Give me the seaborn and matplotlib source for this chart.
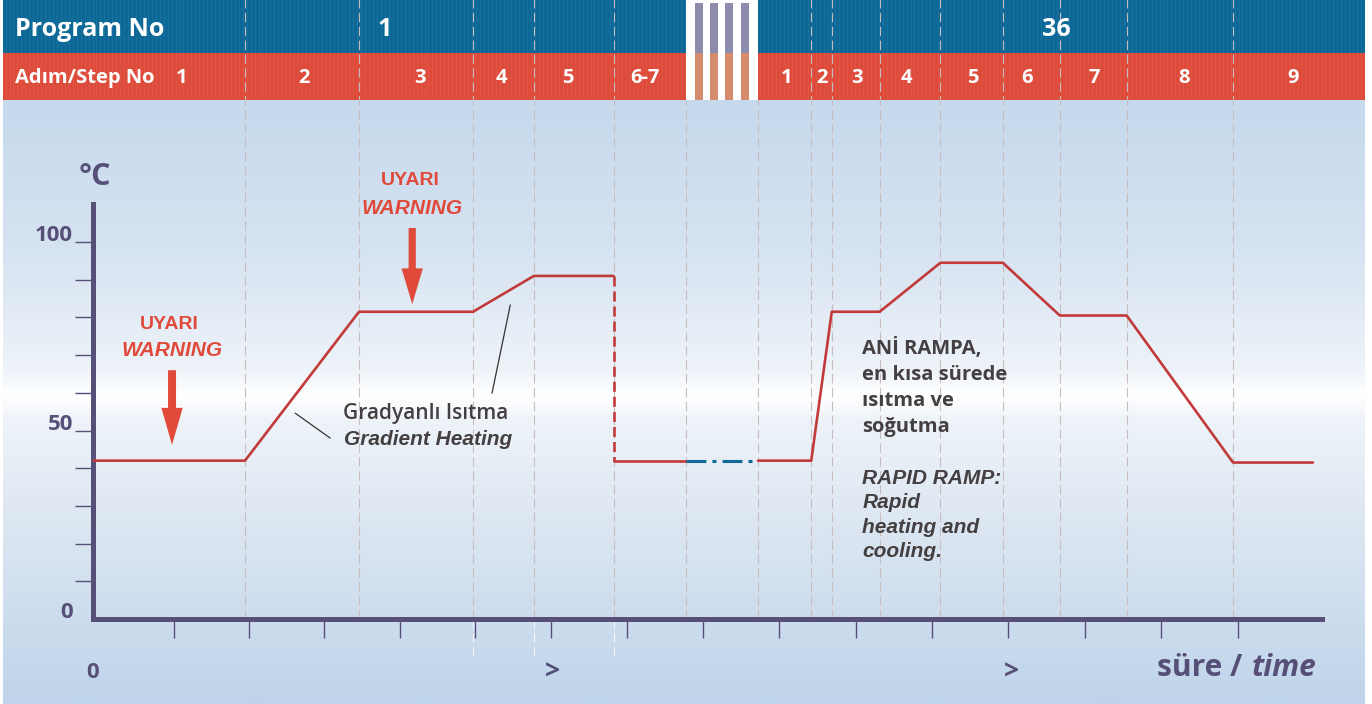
import numpy as np
import matplotlib.pyplot as plt
import matplotlib.transforms as mtransforms
from matplotlib.patches import Rectangle, FancyArrow
from matplotlib.colors import LinearSegmentedColormap
import seaborn as sns

# temperature profile: time in axis-tick units, temperature in °C
prog1_time = [0, 2.0, 3.5, 5.0, 5.8, 6.85]
prog1_temp = [42, 42, 81.5, 81.5, 91, 91]
drop_time = [6.85, 6.85]
drop_temp = [91, 42]
idle_time = [6.85, 7.8]
idle_temp = [42, 42]
break_time = [7.8, 8.75]
break_temp = [42, 42]
prog36_time = [8.75, 9.45, 9.72, 10.35, 11.15, 11.97, 12.72, 13.6, 15.0, 16.05]
prog36_temp = [42, 42, 81.5, 81.5, 94.5, 94.5, 80.5, 80.5, 41.5, 41.5]

# step boundaries (dashed guides)
step_edges = [2.0, 3.5, 5.0, 5.8, 6.85, 7.8, 8.75, 9.45, 9.72, 10.35,
              11.15, 11.97, 12.72, 13.6, 15.0]
long_edges = [5.0, 5.8, 6.85]    # these run on below the time axis
gap_edges = [7.8, 8.75]          # these stop under the header
step_labels = ['1', '2', '3', '4', '5', '6-7',
               '1', '2', '3', '4', '5', '6', '7', '8', '9']
step_label_x = [1.17, 2.78, 4.30, 5.37, 6.25, 7.26,
                9.13, 9.59, 10.05, 10.70, 11.58, 12.29, 13.17, 14.36, 15.79]
program_labels = ['1', '36']
program_label_x = [3.84, 12.68]
break_stripes = [7.92, 8.12, 8.32, 8.53]
x_ticks = [1.066, 2.05, 3.04, 4.04, 5.03, 6.03, 7.03, 8.03, 9.03, 10.04,
           11.04, 12.04, 13.05, 14.05, 15.06]

y_ticks = [0, 10, 20, 30, 40, 50, 60, 70, 80, 90, 100]
y_ticklabels = ['0', '', '', '', '', '50', '', '', '', '', '100']

# colours
AXC = '#564f78'
LINE_RED = '#c23a3a'
WARN_RED = '#e04a3a'
BLUE = '#0c6896'
RED_BAR = '#de4b3a'
TXT = '#443f40'
GUIDE = '#c7bdbe'

sns.set_style('white')
plt.rcParams['font.family'] = ['Open Sans', 'DejaVu Sans']

fig = plt.figure(figsize=(13.72, 7.04), dpi=100)

# background gradient (pixel coordinates)
bg = fig.add_axes([0, 0, 1, 1], zorder=0)
bg.set_xlim(0, 1372)
bg.set_ylim(704, 0)
bg.axis('off')
stops = [(0, '#c4d8ec'), (100 / 704, '#c6d9ed'), (250 / 704, '#d6e3f1'),
         (370 / 704, '#eef3f9'), (396 / 704, '#ffffff'), (420 / 704, '#eef3f9'),
         (520 / 704, '#dde7f2'), (1, '#bfd4ea')]
cmap = LinearSegmentedColormap.from_list('bg', stops)
grad = np.linspace(0, 1, 704).reshape(-1, 1)
bg.imshow(grad, cmap=cmap, aspect='auto', extent=[3, 1365, 704, 0], interpolation='bilinear')

# main axes
ax = fig.add_axes([93 / 1372, 85 / 704, 1229 / 1372, 414.7 / 704], zorder=1)
ax.patch.set_alpha(0)
ax.set_xlim(0, 16.17)
ax.set_ylim(0, 110)

# header bars
bar_left, bar_right = -1.18, 16.74
for x0, x1 in [(bar_left, gap_edges[0]), (gap_edges[1], bar_right)]:
    ax.add_patch(Rectangle((x0, 150.1), x1 - x0, 14.5, color=BLUE, clip_on=False, lw=0, zorder=1))
    ax.add_patch(Rectangle((x0, 137.7), x1 - x0, 12.4, color=RED_BAR, clip_on=False, lw=0, zorder=1))
    # faint vertical texture in the bars
    xs = np.arange(x0 + 0.03, x1, 0.052)
    ax.vlines(xs, 137.7, 164.6, color='white', lw=0.6, alpha=0.07, clip_on=False, zorder=1.5)
ax.add_patch(Rectangle((gap_edges[0], 137.7), gap_edges[1] - gap_edges[0], 27, color='white',
                       clip_on=False, lw=0, zorder=1))
for xs in break_stripes:
    ax.add_patch(Rectangle((xs, 150.1), 0.105, 13.4, color='#8d8dab', clip_on=False, lw=0, zorder=1.2))
    ax.add_patch(Rectangle((xs, 137.7), 0.105, 12.4, color='#d58b6d', clip_on=False, lw=0, zorder=1.2))

# step guides
for e in step_edges:
    top = 137.7 if e in gap_edges else 164.5
    ax.plot([e, e], [0, top], color=GUIDE, lw=0.8, ls=(0, (8.5, 4)), clip_on=False, zorder=2)
for e in long_edges:
    ax.plot([e, e], [0, -9.5], color='#f4f7fb', lw=0.8, ls=(0, (8.5, 4)), clip_on=False, zorder=2)

ax.text(-1.03, 156.3, 'Program No', color='white', fontsize=18, fontweight='bold',
        ha='left', va='center', clip_on=False)
for lab, x in zip(program_labels, program_label_x):
    ax.text(x, 156.3, lab, color='white', fontsize=18, fontweight='bold',
            ha='center', va='center', clip_on=False)
ax.text(-1.03, 143.5, 'Adım/Step No', color='white', fontsize=14.5, fontweight='bold',
        ha='left', va='center', clip_on=False)
for lab, x in zip(step_labels, step_label_x):
    ax.text(x, 143.5, lab, color='white', fontsize=14.5, fontweight='bold',
            ha='center', va='center', clip_on=False)

# temperature profile
sns.lineplot(x=prog1_time, y=prog1_temp, ax=ax, color=LINE_RED, lw=1.9, sort=False, estimator=None, zorder=4)
ax.plot(drop_time, drop_temp, color=LINE_RED, lw=1.9, ls=(0, (3.8, 1.9)), zorder=4)
sns.lineplot(x=idle_time, y=idle_temp, ax=ax, color=LINE_RED, lw=1.9, sort=False, estimator=None, zorder=4)
ax.plot(break_time, break_temp, color='#0f6a98', lw=2.2, ls=(0, (6.5, 2, 1.3, 2)), zorder=4)
sns.lineplot(x=prog36_time, y=prog36_temp, ax=ax, color=LINE_RED, lw=1.9, sort=False, estimator=None, zorder=4)

# axes styling
sns.despine(ax=ax)
for side in ['left', 'bottom']:
    ax.spines[side].set_linewidth(3.6)
    ax.spines[side].set_color(AXC)
ax.set_xticks(x_ticks)
ax.set_yticks(y_ticks, labels=y_ticklabels)
ax.tick_params(axis='x', bottom=True, length=13.7, width=1.0, color=AXC, labelbottom=False,
               direction='out')
ax.tick_params(axis='y', left=True, length=13, width=1.0, color=AXC, pad=1.5, labelsize=16,
               labelcolor=AXC, direction='out')
ax.yaxis.get_major_ticks()[0].tick1line.set_visible(False)
offset = mtransforms.ScaledTranslation(0, 9 / 100, fig.dpi_scale_trans)
for lbl in ax.get_yticklabels():
    lbl.set_fontweight('bold')
    lbl.set_transform(lbl.get_transform() + offset)
ax.set_xlabel('')
ax.set_ylabel('')

ax.text(0.03, 117.2, '°C', color=AXC, fontsize=22, fontweight='bold', ha='center', va='center', clip_on=False)
ax.text(-0.01, -14.1, '0', color=AXC, fontsize=16, fontweight='bold', ha='center', va='center', clip_on=False)
for x in [6.05, 12.09]:
    ax.text(x, -14.1, '>', color=AXC, fontsize=19, fontweight='bold', ha='center', va='center', clip_on=False)
ax.text(15.12, -13.0, 'süre /', color=AXC, fontsize=21.5, fontweight='bold', ha='right', va='center', clip_on=False)
ax.text(15.25, -13.0, 'time', color=AXC, fontsize=21.5, fontweight='bold', fontstyle='italic',
        ha='left', va='center', clip_on=False)

# warnings
warn_font = ['Liberation Sans', 'DejaVu Sans']
for (xu, yu), (xw, yw) in [((1.0, 78.2), (1.04, 71.1)), ((4.17, 116.2), (4.2, 109.0))]:
    ax.text(xu, yu, 'UYARI', color=WARN_RED, fontsize=14, fontweight='bold', family=warn_font,
            ha='center', va='center', clip_on=False)
    ax.text(xw, yw, 'WARNING', color=WARN_RED, fontsize=15, fontweight='bold', fontstyle='italic',
            family=warn_font, ha='center', va='center', clip_on=False)
ax.add_patch(FancyArrow(1.04, 66.0, 0, -19.8, width=0.105, head_width=0.28, head_length=9.8,
                        length_includes_head=True, color=WARN_RED, lw=0, zorder=5))
ax.add_patch(FancyArrow(4.2, 103.7, 0, -20.2, width=0.095, head_width=0.28, head_length=9.5,
                        length_includes_head=True, color=WARN_RED, lw=0, zorder=5))

# gradient heating note
ax.text(4.37, 54.6, 'Gradyanlı Isıtma', color=TXT, fontsize=15, fontweight='semibold',
        ha='center', va='center')
ax.text(4.41, 47.5, 'Gradient Heating', color=TXT, fontsize=15, fontweight='bold', fontstyle='italic',
        family=warn_font, ha='center', va='center')
ax.plot([2.66, 3.12], [54.6, 48.0], color='#333333', lw=0.9, zorder=3)
ax.plot([5.49, 5.25], [83.3, 59.9], color='#333333', lw=0.9, zorder=3)

# rapid ramp note
ax.text(10.12, 61.5, 'ANİ RAMPA,\nen kısa sürede\nısıtma ve\nsoğutma', color=TXT, fontsize=14.5,
        fontweight='bold', ha='left', va='center', linespacing=1.4)
ax.text(10.12, 27.6, 'RAPID RAMP:\nRapid\nheating and\ncooling.', color=TXT, fontsize=15,
        fontweight='bold', fontstyle='italic', family=warn_font, ha='left', va='center', linespacing=1.35)

fig.savefig('out.png', dpi=100)
